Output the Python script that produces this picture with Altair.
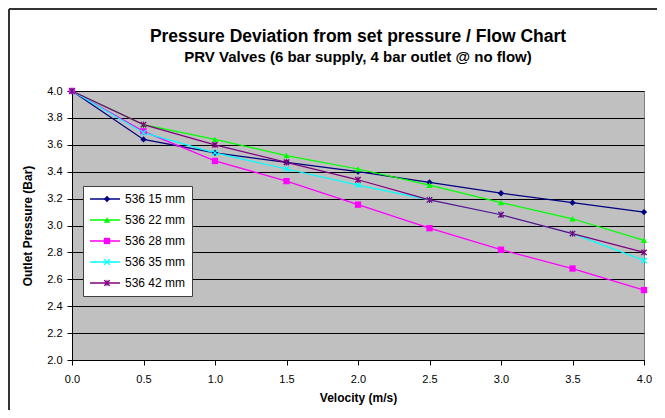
import altair as alt
import pandas as pd

velocity = [0.0, 0.5, 1.0, 1.5, 2.0, 2.5, 3.0, 3.5, 4.0]
series_names = ["536 15 mm", "536 22 mm", "536 28 mm", "536 35 mm", "536 42 mm"]
p15 = [4.00, 3.64, 3.54, 3.47, 3.40, 3.32, 3.24, 3.17, 3.10]
p22 = [4.00, 3.75, 3.64, 3.52, 3.42, 3.30, 3.17, 3.05, 2.89]
p28 = [4.00, 3.70, 3.48, 3.33, 3.155, 2.98, 2.82, 2.68, 2.52]
p35 = [4.00, 3.69, 3.54, 3.42, 3.30, 3.19, 3.08, 2.94, 2.74]
p42 = [4.00, 3.75, 3.60, 3.47, 3.34, 3.19, 3.08, 2.94, 2.80]
colors = ["#000080", "#00FF00", "#FF00FF", "#00FFFF", "#800080"]
x_ticks = [0.0, 0.5, 1.0, 1.5, 2.0, 2.5, 3.0, 3.5, 4.0]
y_ticks = [2.0, 2.2, 2.4, 2.6, 2.8, 3.0, 3.2, 3.4, 3.6, 3.8, 4.0]

X_SHAPE = "M-1,-0.7L-0.7,-1L0,-0.3L0.7,-1L1,-0.7L0.3,0L1,0.7L0.7,1L0,0.3L-0.7,1L-1,0.7L-0.3,0Z"
STAR_SHAPE = X_SHAPE + "M-0.15,-1L0.15,-1L0.15,1L-0.15,1Z"
shapes = ["diamond", "triangle-up", "square", X_SHAPE, STAR_SHAPE]

rows = []
for name, vals in zip(series_names, [p15, p22, p28, p35, p42]):
    for v, p in zip(velocity, vals):
        rows.append({"series": name, "marker": name, "velocity": v, "pressure": p})
df = pd.DataFrame(rows)

FONT = "Liberation Sans"
W, H = 572, 269
PAD = {"left": 64, "top": 83, "right": 13, "bottom": 50}

x = alt.X("velocity:Q", scale=alt.Scale(domain=[0, 4], nice=False),
          axis=alt.Axis(values=x_ticks, format=".1f", title="Velocity (m/s)", grid=False,
                        labelFlush=False, labelOverlap=False, tickSize=5, labelPadding=8,
                        titlePadding=8))
y = alt.Y("pressure:Q", scale=alt.Scale(domain=[2, 4], nice=False),
          axis=alt.Axis(values=y_ticks, format=".1f", title="Outlet Pressure (Bar)", grid=True,
                        gridColor="black", gridWidth=1, labelFlush=False, labelOverlap=False,
                        tickSize=5, labelPadding=5, titlePadding=12))

common_leg = dict(title=None, orient="none", legendX=11, legendY=95, clipHeight=14,
                  rowPadding=7, padding=6, labelFontSize=12, labelFont=FONT, labelOffset=4)

lines = alt.Chart(df).mark_line(strokeWidth=1.25).encode(
    x=x, y=y,
    color=alt.Color("series:N", scale=alt.Scale(domain=series_names, range=colors),
                    legend=alt.Legend(symbolType="stroke", symbolSize=900, symbolStrokeWidth=1.5,
                                      fillColor="white", strokeColor="#404040",
                                      labelColor="black", **common_leg)),
)

pt_leg = alt.Legend(symbolSize=40, symbolOffset=12, labelExpr="''", **common_leg)
points = alt.Chart(df).mark_point(filled=True, size=40, opacity=1).encode(
    x=x, y=y,
    color=alt.Color("marker:N", scale=alt.Scale(domain=series_names, range=colors), legend=pt_leg),
    shape=alt.Shape("marker:N", scale=alt.Scale(domain=series_names, range=shapes), legend=pt_leg),
)

frame_df = pd.DataFrame({"a": [0]})
top_line = alt.Chart(frame_df).mark_rule(stroke="#333333", strokeWidth=2).encode(
    x=alt.value(-PAD["left"] + 1), x2=alt.value(W + PAD["right"]),
    y=alt.value(-PAD["top"] + 1),
)
left_line = alt.Chart(frame_df).mark_rule(stroke="#333333", strokeWidth=2).encode(
    x=alt.value(-PAD["left"] + 1),
    y=alt.value(-PAD["top"] + 1), y2=alt.value(H + PAD["bottom"]),
)

chart = alt.layer(top_line, left_line, lines, points).resolve_scale(
    color="independent", shape="independent"
).resolve_legend(
    color="independent", shape="independent"
).properties(
    width=W, height=H,
    autosize=alt.AutoSizeParams(type="none"),
    padding=PAD,
    background="white",
    title=alt.TitleParams(
        text="Pressure Deviation from set pressure / Flow Chart",
        subtitle="PRV Valves (6 bar supply, 4 bar outlet @ no flow)",
        anchor="middle", frame="group", font=FONT, fontSize=17.5, fontWeight="bold", color="black",
        subtitleFont=FONT, subtitleFontSize=15, subtitleFontWeight="bold",
        subtitleColor="black", subtitlePadding=5, offset=-57,
    ),
).configure_view(
    fill="#C0C0C0", stroke="#808080", strokeWidth=1
).configure_axis(
    labelFont=FONT, labelFontSize=11, labelColor="black",
    titleFont=FONT, titleFontSize=12, titleFontWeight="bold", titleColor="black",
    domainColor="black", tickColor="black",
)

chart.save("out.html", embed_options={"renderer": "svg", "actions": False})
